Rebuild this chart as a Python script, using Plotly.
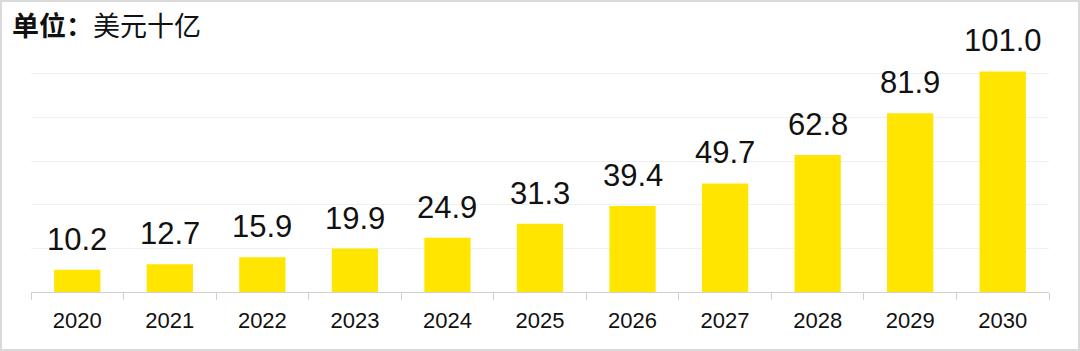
import plotly.graph_objects as go

years = ["2020", "2021", "2022", "2023", "2024", "2025", "2026", "2027", "2028", "2029", "2030"]
values = [10.2, 12.7, 15.9, 19.9, 24.9, 31.3, 39.4, 49.7, 62.8, 81.9, 101.0]
labels = [f"{v:.1f}" for v in values]

W, H = 1080, 351
ML, MR, MT, MB = 31, 31, 30, 59
PW, PH = W - ML - MR, H - MT - MB

fig = go.Figure()
fig.add_trace(go.Bar(x=years, y=values, marker_color="#FFE500", marker_line_width=0,
                     hoverinfo="skip"))

for i, (v, t) in enumerate(zip(values, labels)):
    fig.add_annotation(x=i, y=v, text=t, showarrow=False, yanchor="bottom", yshift=11,
                       font=dict(family="Liberation Sans, Arial", size=31, color="#111111"))

# outer border
bx0 = (-ML + 1) / PW
bx1 = 1 + (MR - 1) / PW
by0 = (-MB + 1) / PH
by1 = 1 + (MT - 1) / PH
fig.add_shape(type="rect", xref="paper", yref="paper", x0=bx0, x1=bx1, y0=by0, y1=by1,
              line=dict(color="#DADADA", width=2), layer="below")

fig.update_layout(
    width=W, height=H,
    margin=dict(l=ML, r=MR, t=MT, b=MB),
    paper_bgcolor="white", plot_bgcolor="white",
    bargap=0.5, showlegend=False,
    title=dict(text="<b>单位：</b>美元十亿", x=12 / W, xanchor="left", y=1 - 27 / H, yanchor="middle",
               font=dict(family="Noto Sans CJK SC", size=27, color="#111111")),
    xaxis=dict(type="category", range=[-0.5, len(years) - 0.5], tickson="boundaries", ticks="outside",
               ticklen=7, tickcolor="#D0D0D0",
               showline=True, linecolor="#D0D0D0", linewidth=1, showgrid=False,
               tickfont=dict(family="Liberation Sans, Arial", size=22, color="#111111"),
               ticklabelstandoff=9, tickangle=0),
    yaxis=dict(range=[0, 120], dtick=20, showticklabels=False, showgrid=True, gridcolor="#F0F0F0",
               gridwidth=1, zeroline=False, fixedrange=True),
)

fig.write_html("out.html")
